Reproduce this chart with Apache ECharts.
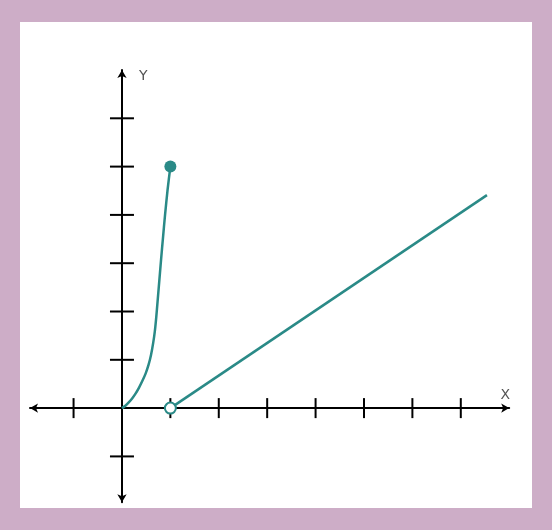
<!DOCTYPE html>
<html><head><meta charset="utf-8">
<script src="https://cdn.jsdelivr.net/npm/echarts@6/dist/echarts.min.js"></script>
<style>html,body{margin:0;padding:0;background:#CDADC7;}#wrap{position:absolute;left:20px;top:22px;width:512px;height:486px;background:#fff;}#c{position:absolute;left:0;top:0;width:552px;height:530px;}</style>
</head><body><div id="wrap"></div><div id="c"></div>
<script>
var curvePoints = [[0,0],[0.07,0.05],[0.14,0.12],[0.21,0.2],[0.28,0.3],[0.35,0.42],[0.42,0.56],[0.49,0.72],[0.55,0.9],[0.6,1.1],[0.645,1.35],[0.68,1.6],[0.71,1.9],[0.735,2.2],[0.76,2.5],[0.785,2.8],[0.81,3.1],[0.845,3.5],[0.89,4.0],[0.94,4.5],[1,5]];
var linePoints = [[1,0],[7.54,4.41]];
var closedPoint = [[1,5]];
var openPoint = [[1,0]];
var xTicks = [-1,1,2,3,4,5,6,7];
var yTicks = [-1,1,2,3,4,5,6];
var xName = 'X', yName = 'Y';
var teal = '#2A8A87';
var chart = echarts.init(document.getElementById('c'), null, {renderer:'canvas'});
var tickData = xTicks.map(function(v){return [v,0];});
var ytickData = yTicks.map(function(v){return [0,v];});
chart.setOption({
  animation:false,
  backgroundColor:'transparent',
  grid:{left:30,top:70,width:479.2,height:432.3},
  xAxis:{type:'value',min:-1.9,max:8.0,splitLine:{show:false},axisLabel:{show:false},axisTick:{show:false},
    axisLine:{onZero:true,symbol:['arrow','arrow'],symbolSize:[7,8],lineStyle:{color:'#000',width:2}},
    name:xName,nameLocation:'end',nameGap:-4,nameTextStyle:{color:'#555',fontSize:14,fontFamily:'DejaVu Sans',align:'center',verticalAlign:'bottom',padding:[0,0,6,0]}},
  yAxis:{type:'value',min:-1.95,max:7.0,splitLine:{show:false},axisLabel:{show:false},axisTick:{show:false},
    axisLine:{onZero:true,symbol:['arrow','arrow'],symbolSize:[7,8],lineStyle:{color:'#000',width:2}},
    name:yName,nameLocation:'end',nameGap:-6,nameTextStyle:{color:'#555',fontSize:14,fontFamily:'DejaVu Sans',align:'left',verticalAlign:'middle',padding:[0,0,0,17]}},
  series:[
    {type:'scatter',data:tickData,symbol:'rect',symbolSize:[2,20],itemStyle:{color:'#000',opacity:1},silent:true,z:1},
    {type:'scatter',data:ytickData,symbol:'rect',symbolSize:[24,2],itemStyle:{color:'#000',opacity:1},silent:true,z:1},
    {type:'line',data:curvePoints,smooth:0.2,showSymbol:false,lineStyle:{color:teal,width:2.5},z:3},
    {type:'line',data:linePoints,showSymbol:false,lineStyle:{color:teal,width:2.5},z:3},
    {type:'scatter',data:closedPoint,symbol:'circle',symbolSize:12,itemStyle:{color:teal,opacity:1},z:5},
    {type:'scatter',data:openPoint,symbol:'circle',symbolSize:11,itemStyle:{color:'#fff',borderColor:teal,borderWidth:2,opacity:1},z:5}
  ]
});
</script></body></html>
